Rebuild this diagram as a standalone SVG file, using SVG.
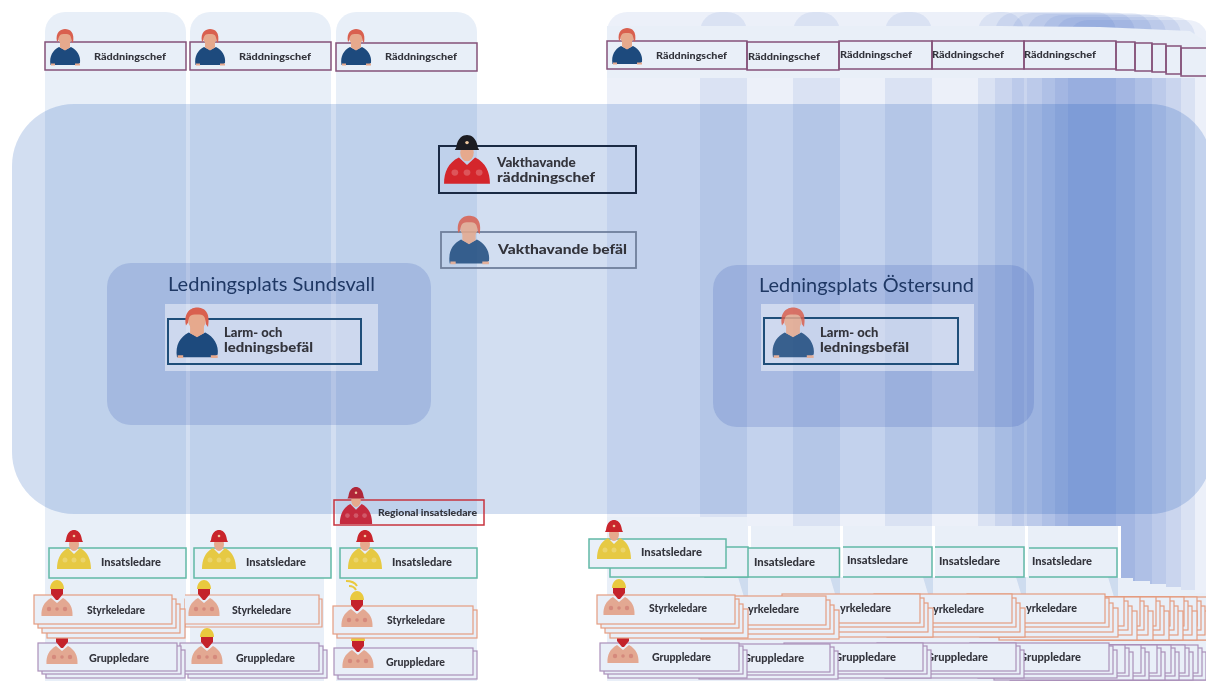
<svg xmlns="http://www.w3.org/2000/svg" xmlns:xlink="http://www.w3.org/1999/xlink" width="1206" height="681" viewBox="0 0 1206 681">
<style>
.col{fill:#0f50b4;fill-opacity:.095}
.cr{fill:#2850b4;fill-opacity:.088}
.panel{fill:#e9eff8}
.t{font-family:Lato,"Liberation Sans",sans-serif;font-weight:900;fill:#33343c}
.rcn{fill:none;stroke:#85527a;stroke-width:1.5}
.ins{fill:#e9eff8;stroke:#62b9a6;stroke-width:1.5}
.s{fill:#e9eff8;stroke:#e59c80;stroke-width:1.2}
.g{fill:#e9eff8;stroke:#ab8fb9;stroke-width:1.2}
.h{font-family:Lato,"Liberation Sans",sans-serif;font-size:20px;fill:#1f3864}
</style>
<defs>
<filter id="b" filterUnits="userSpaceOnUse" x="0" y="0" width="1206" height="681" color-interpolation-filters="sRGB"><feGaussianBlur stdDeviation="0.4"/></filter>
<g id="officer">
<path d="M-14.500 35C-16 26-12 20-6 17L0 20 6 17C12 20 16 26 15 33L12 35Z" fill="#1d4a7d"/>
<path d="M-14 33.500h4v2h-4zM10 33.500h5v2h-5z" fill="#e6a98d"/>
<path d="M-5 12h10v5.500l-5 3-5-3Z" fill="#e6a98d"/>
<ellipse cx="0" cy="8" rx="6.500" ry="7.500" fill="#e6a98d"/>
<path d="M-8 12C-10 2-4-1 0-1 5-1 10 2 8 13L6.500 11C6 5 5 4 0 4-5 4-6 5-6.500 10Z" fill="#d9604f"/>
</g>
<g id="ff">
<path d="M-17 39C-17 30-14 22-6 18L0 24 6 18C14 22 17 30 17 39Z"/>
<ellipse cx="0" cy="14" rx="5" ry="7" fill="#e6a98d"/>
<path d="M-8 10C-7 2-3 0 0 0 3 0 7 2 8 10L9 12-9 12Z" fill="currentColor"/>
<circle cx="0" cy="6" r="1.300" fill="#f0c9a0"/>
<g fill="#fff" fill-opacity=".22"><circle cx="-9" cy="30" r="2.500"/><circle cx="0" cy="30" r="2.500"/><circle cx="9" cy="30" r="2.500"/></g>
</g>
<g id="fs">
<path d="M-15.500 36C-16 28-13 22-6 18L0 23 6 18C13 22 16 28 15.500 36Z" fill="#e3a892"/>
<g fill="#d5897c"><circle cx="-8" cy="29" r="2.200"/><circle cx="8" cy="29" r="2.200"/><circle cx="0" cy="29" r="1.800"/></g>
<path d="M-7 9C-7 3-3 0 0 0 3 0 7 3 7 9Z" fill="#e9c93e"/>
<path d="M-6 9H6V14L1 20H-1L-6 14Z" fill="#c4222b"/>
</g>
<g id="st">
<rect class="s" x="13" y="14" width="138" height="29"/>
<rect class="s" x="8" y="9" width="138" height="29"/>
<rect class="s" x="4" y="4" width="138" height="29"/>
<rect class="s" width="138" height="29"/>
</g>
<g id="gs">
<rect class="g" x="8" y="7" width="139" height="28"/>
<rect class="g" x="4" y="3" width="139" height="28"/>
<rect class="g" width="139" height="28"/>
</g>
</defs>
<rect width="1206" height="681" fill="#fff"/>
<g filter="url(#b)">
<g id="backdrop">
<rect class="col" x="45" y="12" width="141" height="700" rx="20"/>
<rect class="col" x="190" y="12" width="141" height="700" rx="20"/>
<rect class="col" x="336" y="12" width="141" height="700" rx="20"/>
<rect x="324" y="578" width="12" height="103" fill="#fff"/>
<rect class="cr" x="607" y="12" width="140" height="620" rx="20"/>
<rect class="cr" x="700" y="12" width="140" height="620" rx="20"/>
<rect class="cr" x="793" y="12" width="139" height="620" rx="20"/>
<rect class="cr" x="885" y="12" width="139" height="620" rx="20"/>
<rect class="cr" x="978" y="12" width="138" height="620" rx="20"/>
<rect class="cr" x="995" y="12.500" width="140" height="620" rx="20"/>
<rect class="cr" x="1012" y="13" width="140" height="620" rx="20"/>
<rect class="cr" x="1027" y="14" width="139" height="620" rx="20"/>
<rect class="cr" x="1042" y="15" width="139" height="620" rx="20"/>
<rect class="cr" x="1055" y="17" width="140" height="620" rx="20"/>
<rect class="cr" x="1068" y="20" width="140" height="620" rx="20"/>
<path class="panel" d="M607 26H1000L1100 27 1190 31 1206 42V78H607Z"/>
<path class="panel" d="M607 517H747V526H1121V578H1133V581H1150V584H1166V587H1181V590H1195V593H1206V681H607Z"/>
<g fill="#fff"><rect x="748" y="526" width="3" height="51"/><rect x="840" y="526" width="3" height="51"/><rect x="932" y="526" width="3" height="51"/><rect x="1025" y="526" width="3" height="51"/><rect x="1118" y="526" width="3" height="52"/></g>
<g fill="#0f50b4" fill-opacity=".12"><path d="M738 577h10v20h-4zM830 577h10v20h-4zM923 577h10v20h-4zM1016 577h10v20h-4zM1108 577h10v20h-4z"/></g>
<rect x="1010" y="677" width="196" height="4" fill="#ab8fb9" fill-opacity=".5"/>
<rect x="12" y="104" width="1200" height="410" rx="62" fill="#0f50b4" fill-opacity=".19"/>
</g>
<g id="ledningsplats-sundsvall">
<rect x="107" y="263" width="324" height="162" rx="24" fill="#1a3fa8" fill-opacity=".16"/>
<text class="h" x="168" y="291" textLength="207" lengthAdjust="spacingAndGlyphs">Ledningsplats Sundsvall</text>
<rect x="165" y="304" width="213" height="67" fill="#fff" fill-opacity=".45"/>
<rect x="168" y="319" width="193" height="45" fill="none" stroke="#1f4e79" stroke-width="2"/>
<use href="#officer" transform="translate(197 309) scale(1.38)"/>
<text class="t" font-size="13" x="224" y="337">Larm- och</text>
<text class="t" font-size="13" x="224" y="352" textLength="89" lengthAdjust="spacingAndGlyphs">ledningsbefäl</text>
</g>
<g id="ledningsplats-ostersund">
<rect x="713" y="265" width="321" height="162" rx="24" fill="#1a3fa8" fill-opacity=".16"/>
<text class="h" x="759" y="292" textLength="215" lengthAdjust="spacingAndGlyphs">Ledningsplats Östersund</text>
<rect x="761" y="304" width="213" height="67" fill="#fff" fill-opacity=".45"/>
<rect x="764" y="318" width="194" height="46" fill="none" stroke="#1f4e79" stroke-width="2"/>
<use href="#officer" transform="translate(793 309) scale(1.38)" opacity=".85"/>
<text class="t" font-size="13" x="820" y="337">Larm- och</text>
<text class="t" font-size="13" x="820" y="352" textLength="89" lengthAdjust="spacingAndGlyphs">ledningsbefäl</text>
</g>
<g id="vakthavande-raddningschef">
<rect x="439" y="146" width="197" height="47" fill="none" stroke="#1a2a44" stroke-width="2"/>
<use href="#ff" transform="translate(467 135) scale(1.35 1.25)" fill="#d4262c" color="#1c1c22"/>
<text class="t" font-size="13.500" x="497" y="167">Vakthavande</text>
<text class="t" font-size="13.500" x="497" y="182" textLength="98" lengthAdjust="spacingAndGlyphs">räddningschef</text>
</g>
<g id="vakthavande-befal">
<rect x="441" y="232" width="195" height="36" fill="none" stroke="#6f7f9c" stroke-width="1.800"/>
<use href="#officer" transform="translate(469 217) scale(1.33)" opacity=".85"/>
<text class="t" font-size="13" x="498" y="254" textLength="129" lengthAdjust="spacingAndGlyphs">Vakthavande befäl</text>
</g>
<g id="raddningschef-left">
<rect x="45" y="42" width="141" height="28" fill="none" stroke="#85527a" stroke-width="1.500"/>
<rect x="190" y="42" width="141" height="28" fill="none" stroke="#85527a" stroke-width="1.500"/>
<rect x="336" y="43" width="141" height="28" fill="none" stroke="#85527a" stroke-width="1.500"/>
<use href="#officer" x="65" y="30"/><use href="#officer" x="210" y="30"/><use href="#officer" x="356" y="30"/>
<text class="t" font-size="10" x="94" y="60" textLength="72" lengthAdjust="spacingAndGlyphs">Räddningschef</text>
<text class="t" font-size="10" x="239" y="60" textLength="72" lengthAdjust="spacingAndGlyphs">Räddningschef</text>
<text class="t" font-size="10" x="385" y="60" textLength="72" lengthAdjust="spacingAndGlyphs">Räddningschef</text>
</g>
<g id="raddningschef-right">
<rect class="rcn" x="1181" y="48" width="26" height="28"/>
<rect class="rcn" x="1166" y="46" width="15" height="28"/>
<rect class="rcn" x="1152" y="44" width="14" height="28"/>
<rect class="rcn" x="1135" y="43" width="17" height="28"/>
<rect class="rcn" x="1116" y="42" width="19" height="28"/>
<rect class="rcn" x="1024" y="41" width="92" height="28"/>
<rect class="rcn" x="932" y="41" width="92" height="28"/>
<rect class="rcn" x="839" y="41" width="93" height="28"/>
<rect class="rcn" x="747" y="42" width="92" height="28"/>
<rect class="rcn" x="607" y="41" width="140" height="28"/>
<use href="#officer" x="627" y="29"/>
<text class="t" font-size="10" x="656" y="59" textLength="71" lengthAdjust="spacingAndGlyphs">Räddningschef</text>
<text class="t" font-size="10" x="748" y="60" textLength="72" lengthAdjust="spacingAndGlyphs">Räddningschef</text>
<text class="t" font-size="10" x="840" y="58" textLength="72" lengthAdjust="spacingAndGlyphs">Räddningschef</text>
<text class="t" font-size="10" x="932" y="58" textLength="72" lengthAdjust="spacingAndGlyphs">Räddningschef</text>
<text class="t" font-size="10" x="1024" y="58" textLength="72" lengthAdjust="spacingAndGlyphs">Räddningschef</text>
</g>
<g id="regional-insatsledare">
<rect x="334" y="500" width="150" height="25" fill="none" stroke="#c8343f" stroke-width="1.500"/>
<use href="#ff" transform="translate(356 487) scale(.95)" fill="#c42a3e" color="#b02638"/>
<text class="t" font-size="8.500" x="378" y="516" textLength="99" lengthAdjust="spacingAndGlyphs">Regional insatsledare</text>
</g>
<g id="insatsledare-left">
<rect x="49" y="548" width="137" height="30" fill="none" stroke="#62b9a6" stroke-width="1.500"/>
<rect x="194" y="548" width="137" height="30" fill="none" stroke="#62b9a6" stroke-width="1.500"/>
<rect x="340" y="548" width="137" height="30" fill="none" stroke="#62b9a6" stroke-width="1.500"/>
<use href="#ff" x="74" y="530" fill="#e6c943" color="#c9252c"/>
<use href="#ff" x="219" y="530" fill="#e6c943" color="#c9252c"/>
<use href="#ff" x="365" y="530" fill="#e6c943" color="#c9252c"/>
<text class="t" font-size="10.500" x="101" y="566" textLength="60" lengthAdjust="spacingAndGlyphs">Insatsledare</text>
<text class="t" font-size="10.500" x="246" y="566" textLength="60" lengthAdjust="spacingAndGlyphs">Insatsledare</text>
<text class="t" font-size="10.500" x="392" y="566" textLength="60" lengthAdjust="spacingAndGlyphs">Insatsledare</text>
</g>
<g id="gruppledare-left">
<use href="#gs" x="180" y="643"/>
<use href="#gs" x="38" y="643"/>
<use href="#fs" x="62" y="628"/>
<use href="#fs" x="207" y="628"/>
<text class="t" font-size="10.500" x="89" y="662" textLength="60" lengthAdjust="spacingAndGlyphs">Gruppledare</text>
<text class="t" font-size="10.500" x="236" y="662" textLength="59" lengthAdjust="spacingAndGlyphs">Gruppledare</text>
<rect class="g" x="338" y="651" width="139" height="28"/>
<rect class="g" x="334" y="648" width="139" height="27"/>
<use href="#fs" x="358" y="632"/>
<text class="t" font-size="10.500" x="386" y="666" textLength="59" lengthAdjust="spacingAndGlyphs">Gruppledare</text>
</g>
<g id="styrkeledare-left">
<path class="s" d="M185 599H322V627H185Z"/>
<path class="s" d="M185 595H319V624H185"/>
<use href="#st" x="34" y="595"/>
<use href="#fs" x="57" y="580"/>
<use href="#fs" x="204" y="580"/>
<text class="t" font-size="10.500" x="87" y="614" textLength="58" lengthAdjust="spacingAndGlyphs">Styrkeledare</text>
<text class="t" font-size="10.500" x="232" y="614" textLength="59" lengthAdjust="spacingAndGlyphs">Styrkeledare</text>
<rect class="s" x="337" y="610" width="140" height="28"/>
<rect class="s" x="333" y="606" width="140" height="28"/>
<use href="#fs" x="357" y="591"/>
<path d="M346 581q8 0 11 5M349 586q5 0 7 4" fill="none" stroke="#e9c93e" stroke-width="2"/>
<text class="t" font-size="10.500" x="387" y="624" textLength="58" lengthAdjust="spacingAndGlyphs">Styrkeledare</text>
</g>
<g id="insatsledare-right">
<path class="ins" d="M1029 548H1117V577H1029"/>
<path class="ins" d="M935 547H1024V577H935"/>
<path class="ins" d="M843 547H932V577H843"/>
<rect class="ins" x="705" y="548" width="134.500" height="29"/>
<rect class="ins" x="610" y="547" width="138" height="30"/>
<rect class="ins" x="589" y="539" width="137" height="29"/>
<use href="#ff" x="614" y="520" fill="#e6c943" color="#c9252c"/>
<text class="t" font-size="10.500" x="641" y="556" textLength="61" lengthAdjust="spacingAndGlyphs">Insatsledare</text>
<text class="t" font-size="10.500" x="754" y="566" textLength="61" lengthAdjust="spacingAndGlyphs">Insatsledare</text>
<text class="t" font-size="10.500" x="847" y="564" textLength="61" lengthAdjust="spacingAndGlyphs">Insatsledare</text>
<text class="t" font-size="10.500" x="939" y="565" textLength="61" lengthAdjust="spacingAndGlyphs">Insatsledare</text>
<text class="t" font-size="10.500" x="1032" y="565" textLength="60" lengthAdjust="spacingAndGlyphs">Insatsledare</text>
</g>
<g id="gruppledare-right">
<use href="#gs" x="1059" y="645"/><use href="#gs" x="1046" y="645"/><use href="#gs" x="1032" y="645"/><use href="#gs" x="1018" y="645"/><use href="#gs" x="1002" y="645"/><use href="#gs" x="986" y="645"/>
<use href="#gs" x="970" y="643"/><text class="t" font-size="10.500" x="1019" y="661" textLength="62" lengthAdjust="spacingAndGlyphs">Gruppledare</text>
<use href="#gs" x="877" y="643"/><text class="t" font-size="10.500" x="926" y="661" textLength="62" lengthAdjust="spacingAndGlyphs">Gruppledare</text>
<use href="#gs" x="784" y="643"/><text class="t" font-size="10.500" x="834" y="661" textLength="62" lengthAdjust="spacingAndGlyphs">Gruppledare</text>
<use href="#gs" x="691" y="644"/><text class="t" font-size="10.500" x="743" y="662" textLength="61" lengthAdjust="spacingAndGlyphs">Gruppledare</text>
<use href="#gs" x="600" y="643"/>
<use href="#fs" x="623" y="627"/>
<text class="t" font-size="10.500" x="652" y="661" textLength="59" lengthAdjust="spacingAndGlyphs">Gruppledare</text>
</g>
<g id="styrkeledare-right">
<use href="#st" x="1072" y="597"/><use href="#st" x="1059" y="597"/><use href="#st" x="1046" y="597"/><use href="#st" x="1032" y="597"/><use href="#st" x="1018" y="597"/><use href="#st" x="1002" y="597"/><use href="#st" x="986" y="597"/>
<use href="#st" x="967" y="594"/><text class="t" font-size="10.500" x="1026" y="612" textLength="51" lengthAdjust="spacingAndGlyphs">yrkeledare</text>
<use href="#st" x="874" y="594"/><text class="t" font-size="10.500" x="933" y="613" textLength="51" lengthAdjust="spacingAndGlyphs">yrkeledare</text>
<use href="#st" x="782" y="594"/><text class="t" font-size="10.500" x="840" y="612" textLength="51" lengthAdjust="spacingAndGlyphs">yrkeledare</text>
<use href="#st" x="688" y="596"/><text class="t" font-size="10.500" x="748" y="613" textLength="51" lengthAdjust="spacingAndGlyphs">yrkeledare</text>
<use href="#st" x="597" y="595"/>
<use href="#fs" x="619" y="579"/>
<text class="t" font-size="10.500" x="649" y="612" textLength="58" lengthAdjust="spacingAndGlyphs">Styrkeledare</text>
</g>
</g>
</svg>
